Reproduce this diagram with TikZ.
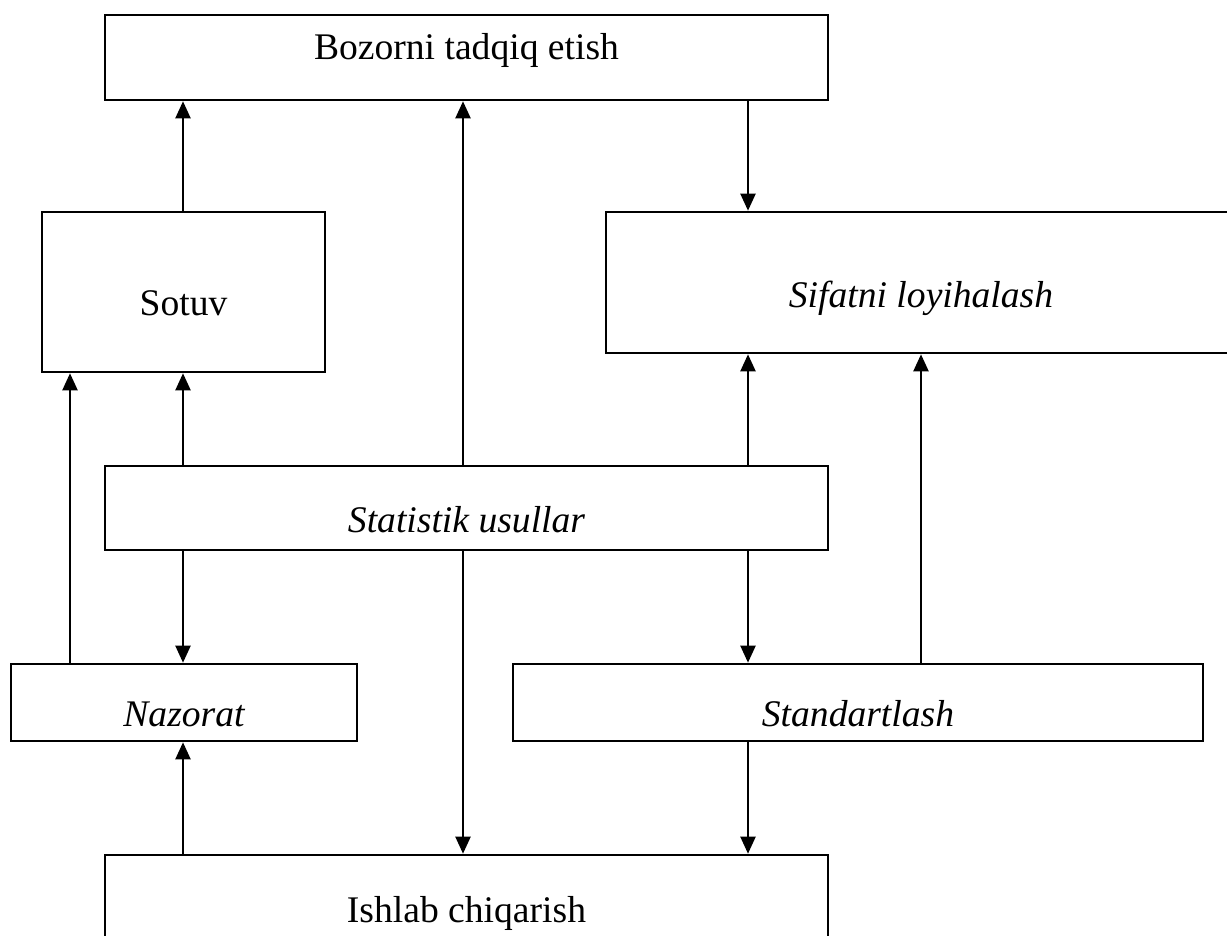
\documentclass[tikz,border=0pt]{standalone}
\usepackage{fontspec}
\setmainfont{Liberation Serif}
\usetikzlibrary{arrows.meta}

\begin{document}
\begin{tikzpicture}[
        x=0.02cm, y=-0.02cm,
        box/.style={
            draw,
            line width=1.5pt,
            inner sep=0pt,
            text depth=0pt,
            text height=#1,
            font=\fontsize{21.4}{26}\selectfont},
        box/.default=0.98cm,
        link/.style={
            line width=1.2pt,
            -{Triangle[length=0.34cm, width=0.3cm]}}]
        \useasboundingbox (0,0) rectangle (1227,936);

        \node[box=0.1cm, minimum width=14.46cm, minimum height=1.7cm] (bozor) at (466.5,57.5) {Bozorni tadqiq etish};
        \node[box=0.96cm, minimum width=5.66cm, minimum height=3.2cm] (sotuv) at (183.5,292) {Sotuv};
        \node[box=1.02cm, minimum width=12.6cm, minimum height=2.82cm] (sifat) at (921,282.5) {\itshape Sifatni loyihalash};
        \node[box=1.0cm, minimum width=14.46cm, minimum height=1.68cm] (stat) at (466.5,508) {\itshape Statistik usullar};
        \node[box=0.94cm, minimum width=6.92cm, minimum height=1.54cm] (nazorat) at (184,702.5) {\itshape Nazorat};
        \node[box=0.94cm, minimum width=13.8cm, minimum height=1.54cm] (standart) at (858,702.5) {\itshape Standartlash};
        \node[box=1.0cm, minimum width=14.46cm, minimum height=1.68cm] (ishlab) at (466.5,897) {Ishlab chiqarish};

        \coordinate (c1) at (70,0);
        \coordinate (c2) at (183,0);
        \coordinate (c3) at (463,0);
        \coordinate (c4) at (748,0);
        \coordinate (c5) at (921,0);

        \draw[link] (sotuv.north -| c2) -- (bozor.south -| c2);
        \draw[link] (stat.north -| c3) -- (bozor.south -| c3);
        \draw[link] (bozor.south -| c4) -- (sifat.north -| c4);

        \draw[link] (nazorat.north -| c1) -- (sotuv.south -| c1);
        \draw[link] (stat.north -| c2) -- (sotuv.south -| c2);
        \draw[link] (stat.north -| c4) -- (sifat.south -| c4);
        \draw[link] (standart.north -| c5) -- (sifat.south -| c5);

        \draw[link] (stat.south -| c2) -- (nazorat.north -| c2);
        \draw[link] (stat.south -| c3) -- (ishlab.north -| c3);
        \draw[link] (stat.south -| c4) -- (standart.north -| c4);

        \draw[link] (ishlab.north -| c2) -- (nazorat.south -| c2);
        \draw[link] (standart.south -| c4) -- (ishlab.north -| c4);
\end{tikzpicture}
\end{document}
